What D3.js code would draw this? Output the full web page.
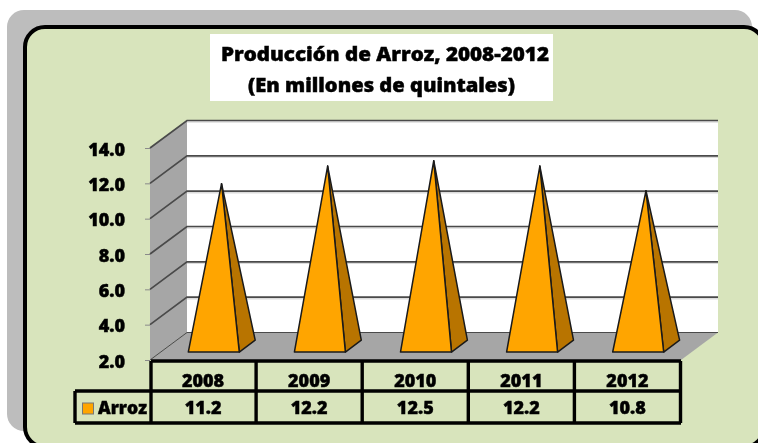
<!DOCTYPE html>
<html><head><meta charset="utf-8">
<style>html,body{margin:0;padding:0;background:#fff;overflow:hidden}svg{display:block}</style>
<script src="https://cdn.jsdelivr.net/npm/d3@7"></script></head>
<body><svg id="c" width="758" height="443"></svg>
<script>
const categories=["2008","2009","2010","2011","2012"];
const seriesName="Arroz";
const values=[11.2,12.2,12.5,12.2,10.8];
const valueLabels=["11.2","12.2","12.5","12.2","10.8"];
const yTicks=[2,4,6,8,10,12,14];
const titleLines=["Producción de Arroz, 2008-2012","(En millones de quintales)"];

const font="'Open Sans',sans-serif";
const root=d3.select("#c");
const f=root.append("defs").append("filter").attr("id","soft").attr("x",0).attr("y",0).attr("width","100%").attr("height","100%").attr("color-interpolation-filters","sRGB");
f.append("feGaussianBlur").attr("stdDeviation",0.4);
const svg=root.append("g").attr("filter","url(#soft)");

const depthX=37, depthY=-27.5;
const x=d3.scaleBand().domain(categories).range([150,680.5]);
const y=d3.scaleLinear().domain([2,14]).range([360,148]);
const px=(X,t)=>X+depthX*t, py=(Y,t)=>Y+depthY*t;
const P=pts=>pts.map(p=>p.join(",")).join(" ");
const heavy=s=>s.attr("font-family",font).attr("font-weight",800).attr("fill","#000").attr("stroke","#000").attr("stroke-width",0.45);

// frame
svg.append("rect").attr("x",0).attr("y",0).attr("width",758).attr("height",443).attr("fill","#fff");
svg.append("rect").attr("x",7).attr("y",10).attr("width",745).attr("height",421).attr("rx",17).attr("fill","#bdbdbd");
svg.append("rect").attr("x",25).attr("y",27).attr("width",739).attr("height",420).attr("rx",20)
  .attr("fill","#d8e4bc").attr("stroke","#000").attr("stroke-width",4);

// title
svg.append("rect").attr("x",210).attr("y",34).attr("width",343).attr("height",67).attr("fill","#fff");
const tw=[328,267], tx=[385,381.5], ty=[61,92];
titleLines.forEach((t,i)=>svg.append("text").text(t).attr("x",tx[i]).attr("y",ty[i])
  .attr("text-anchor","middle").attr("font-size",19.5)
  .attr("textLength",tw[i]).attr("lengthAdjust","spacingAndGlyphs").call(heavy));

// walls
const x0=150,x1=681,yTop=y(14),yBot=y(2);
svg.append("polygon").attr("points",P([[px(x0,1),py(yTop,1)],[px(x1,1),py(yTop,1)],[px(x1,1),py(yBot,1)],[px(x0,1),py(yBot,1)]])).attr("fill","#fff");
svg.append("polygon").attr("points",P([[x0,yTop],[px(x0,1),py(yTop,1)],[px(x0,1),py(yBot,1)],[x0,yBot]])).attr("fill","#a6a6a6");
svg.append("polygon").attr("points",P([[x0,yBot],[x1,yBot],[px(x1,1),py(yBot,1)],[px(x0,1),py(yBot,1)]])).attr("fill","#a6a6a6");

// gridlines
yTicks.forEach(v=>{
  const Y=y(v);
  if(v!==2) svg.append("line").attr("x1",px(x0,1)).attr("x2",px(x1,1)).attr("y1",py(Y,1)+1.5).attr("y2",py(Y,1)+1.5).attr("stroke","#dcdcdc").attr("stroke-width",1.5);
  svg.append("polyline").attr("points",P([[x0,Y],[px(x0,1),py(Y,1)],[px(x1,1),py(Y,1)]]))
    .attr("fill","none").attr("stroke","#4a4a4a").attr("stroke-width",v===2?1:1.7);
});

// y axis
const axis=svg.append("g").attr("transform","translate(150,0)").call(d3.axisLeft(y).tickValues(yTicks).tickFormat(d3.format(".1f")).tickSize(5).tickPadding(20));
axis.select(".domain").remove();
axis.selectAll("line").attr("stroke","#8a8a8a");
axis.selectAll("text").attr("font-size",18).attr("dy","0.4em").call(heavy);

// pyramids
const t0=0.29,t1=0.72,tm=0.5,hw=25.5;
const g=svg.append("g");
categories.forEach((c,i)=>{
  const cx=x(c)+x.bandwidth()/2, Y=yBot;
  const apex=[px(cx,tm),py(y(values[i]),tm)];
  const fl=[px(cx-hw,t0),py(Y,t0)], fr=[px(cx+hw,t0),py(Y,t0)], br=[px(cx+hw,t1),py(Y,t1)];
  g.append("polygon").attr("points",P([fr,br,apex])).attr("fill","#b87400").attr("stroke","#1a1a1a").attr("stroke-width",1.5).attr("stroke-linejoin","round");
  g.append("polygon").attr("points",P([fl,fr,apex])).attr("fill","#ffa500").attr("stroke","#1a1a1a").attr("stroke-width",1.5).attr("stroke-linejoin","round");
});

// data table
const rowA=361,rowB=391,rowC=423,legL=75;
const T=svg.append("g").attr("stroke","#000").attr("stroke-width",3.4).attr("fill","none");
T.append("line").attr("x1",151).attr("x2",681).attr("y1",rowA).attr("y2",rowA);
T.append("line").attr("x1",legL).attr("x2",681).attr("y1",rowB).attr("y2",rowB);
T.append("line").attr("x1",legL).attr("x2",681).attr("y1",rowC).attr("y2",rowC);
T.append("line").attr("x1",legL).attr("x2",legL).attr("y1",rowB).attr("y2",rowC);
T.append("line").attr("x1",151).attr("x2",151).attr("y1",rowA).attr("y2",rowC);
categories.forEach(c=>{const X=x(c)+x.bandwidth();
  T.append("line").attr("x1",X).attr("x2",X).attr("y1",rowA).attr("y2",rowC);});
const cell=(t,X,Y)=>svg.append("text").text(t).attr("x",X).attr("y",Y).attr("text-anchor","middle")
  .attr("font-size",18).call(heavy);
categories.forEach((c,i)=>{const X=x(c)+x.bandwidth()/2;
  cell(c,X,387); cell(valueLabels[i],X,414);});
svg.append("rect").attr("x",82.5).attr("y",403).attr("width",11).attr("height",11).attr("fill","#ffa500").attr("stroke","#777").attr("stroke-width",1);
svg.append("text").text(seriesName).attr("x",98).attr("y",414).attr("font-size",18).attr("textLength",49).attr("lengthAdjust","spacingAndGlyphs").call(heavy);
</script></body></html>
